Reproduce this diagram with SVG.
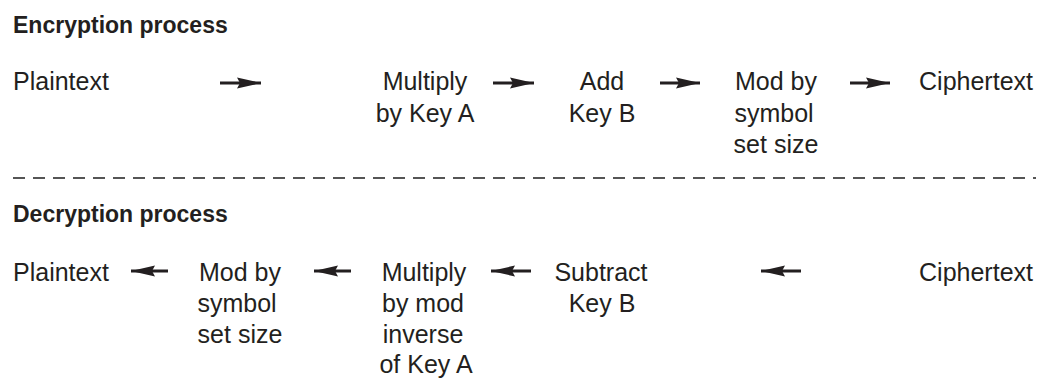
<svg xmlns="http://www.w3.org/2000/svg" width="1040" height="379" viewBox="0 0 1040 379">
  <style>
    .t { font-family: "Liberation Sans", Arial, sans-serif; font-size: 25px; fill: #231f20; }
    .c { text-anchor: middle; }
    .e { text-anchor: end; }
    .h { font-family: "Liberation Sans", Arial, sans-serif; font-size: 23px; font-weight: bold; fill: #231f20; }
    .a { stroke: #231f20; stroke-width: 3; fill: none; marker-end: url(#ah); }
    .d { stroke: #555; stroke-width: 2; stroke-dasharray: 12 8; fill: none; }
  </style>
  <defs>
    <marker id="ah" markerUnits="userSpaceOnUse" markerWidth="26" markerHeight="14" viewBox="0 -7 26 14" refX="24" refY="0" orient="auto">
      <path d="M0,-5.5 L24,0 L0,5.5 L3,0 Z" fill="#231f20"/>
    </marker>
  </defs>
  <rect width="1040" height="379" fill="#ffffff"/>

  <g id="title-enc"><text class="h" x="13" y="33">Encryption process</text></g>

  <g id="enc-plaintext"><text class="t" x="13" y="90">Plaintext</text></g>
  <g id="enc-multiply"><text class="t c" x="425" y="90">Multiply</text><text class="t c" x="425" y="122">by Key A</text></g>
  <g id="enc-add"><text class="t c" x="602" y="90">Add</text><text class="t c" x="602" y="122">Key B</text></g>
  <g id="enc-mod"><text class="t c" x="776" y="90">Mod by</text><text class="t c" x="774" y="122">symbol</text><text class="t c" x="776" y="153">set size</text></g>
  <g id="enc-ciphertext"><text class="t e" x="1033" y="90">Ciphertext</text></g>

  <g id="separator"><line class="d" x1="13" y1="178" x2="1036" y2="178"/></g>

  <g id="title-dec"><text class="h" x="13" y="222">Decryption process</text></g>

  <g id="dec-plaintext"><text class="t" x="13" y="281">Plaintext</text></g>
  <g id="dec-mod"><text class="t c" x="240" y="281">Mod by</text><text class="t c" x="237" y="312">symbol</text><text class="t c" x="240" y="343">set size</text></g>
  <g id="dec-multiply"><text class="t c" x="424" y="281">Multiply</text><text class="t c" x="423" y="312">by mod</text><text class="t c" x="423" y="343">inverse</text><text class="t c" x="426" y="373">of Key A</text></g>
  <g id="dec-subtract"><text class="t c" x="601" y="281">Subtract</text><text class="t c" x="602" y="312">Key B</text></g>
  <g id="dec-ciphertext"><text class="t e" x="1033" y="281">Ciphertext</text></g>

  <g id="connectors">
    <line class="a" x1="220" y1="83" x2="261" y2="83"/>
    <line class="a" x1="493" y1="83" x2="534" y2="83"/>
    <line class="a" x1="660" y1="83" x2="700" y2="83"/>
    <line class="a" x1="850" y1="83" x2="890" y2="83"/>
    <line class="a" x1="168" y1="271" x2="131" y2="271"/>
    <line class="a" x1="351" y1="271" x2="314" y2="271"/>
    <line class="a" x1="531" y1="271" x2="491" y2="271"/>
    <line class="a" x1="801" y1="271" x2="761" y2="271"/>
  </g>
</svg>
